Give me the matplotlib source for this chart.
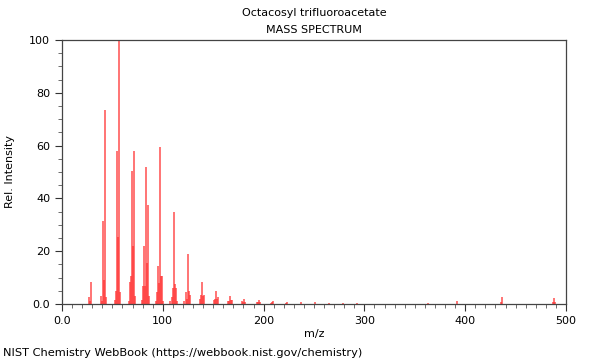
import matplotlib
matplotlib.use("Agg")
import matplotlib.pyplot as plt
from matplotlib.ticker import MultipleLocator, FuncFormatter

# ── Spectrum data (m/z, relative intensity) ──────────────────────────────────
mz = [27, 28, 29,
      39, 40, 41, 42, 43, 44,
      53, 54, 55, 56, 57, 58,
      66, 67, 68, 69, 70, 71, 72,
      79, 80, 81, 82, 83, 84, 85, 86,
      93, 94, 95, 96, 97, 98, 99, 100,
      107, 109, 110, 111, 112, 113, 114,
      121, 123, 124, 125, 126, 127,
      137, 138, 139, 140, 141,
      151, 152, 153, 154, 155,
      165, 166, 167, 168, 169,
      179, 180, 181, 182,
      193, 194, 195, 196,
      207, 208, 209,
      222, 223, 237, 251, 265, 279, 293,
      363, 392, 436, 437, 487, 488, 489]
intensity = [2.5, 1.0, 8.5,
             3.0, 1.0, 31.5, 9.0, 73.5, 2.5,
             1.5, 5.0, 58.0, 25.5, 100.0, 4.5,
             1.0, 8.5, 10.5, 50.5, 22.0, 58.0, 3.0,
             1.5, 7.0, 22.0, 7.0, 52.0, 15.5, 37.5, 3.0,
             1.0, 4.5, 14.5, 8.0, 59.5, 10.5, 10.5, 1.0,
             1.0, 2.5, 6.0, 35.0, 7.5, 6.0, 1.0,
             1.0, 4.5, 2.0, 19.0, 5.0, 3.5,
             2.0, 3.5, 8.3, 3.0, 3.5,
             1.5, 2.0, 4.9, 2.0, 2.5,
             1.0, 1.2, 3.0, 1.5, 1.5,
             1.0, 0.8, 1.8, 0.8,
             0.6, 0.7, 1.5, 0.6,
             0.4, 0.6, 1.0,
             0.4, 0.9, 0.7, 0.6, 0.5, 0.5, 0.4,
             0.3, 1.1, 0.6, 2.5, 0.8, 2.2, 0.6]

title = "Octacosyl trifluoroacetate"
subtitle = "MASS SPECTRUM"
footer = "NIST Chemistry WebBook (https://webbook.nist.gov/chemistry)"

fig = plt.figure(figsize=(6, 3.6), dpi=100)
ax = fig.add_axes([62 / 600, 56 / 360, 504 / 600, 264 / 360])

ax.vlines(mz, 0, intensity, color="#ff3030", linewidth=1.1, alpha=0.85)

ax.set_xlim(0, 500)
ax.set_ylim(0, 100)
ax.xaxis.set_major_locator(MultipleLocator(100))
ax.xaxis.set_minor_locator(MultipleLocator(10))
ax.yaxis.set_major_locator(MultipleLocator(20))
ax.yaxis.set_minor_locator(MultipleLocator(5))
fmt = FuncFormatter(lambda v, _: "0.0" if v == 0 else f"{v:.0f}")
ax.xaxis.set_major_formatter(fmt)
ax.yaxis.set_major_formatter(fmt)

ax.tick_params(which="major", length=5, width=0.8, labelsize=8, colors="#333333",
               labelcolor="black")
ax.tick_params(which="minor", length=3, width=0.6, colors="#555555")
for spine in ax.spines.values():
    spine.set_edgecolor("#444444")
    spine.set_linewidth(0.9)

ax.set_xlabel("m/z", fontsize=8, labelpad=2)
ax.set_ylabel("Rel. Intensity", fontsize=8, labelpad=10)

fig.text(314 / 600, 1 - 13 / 360, title, ha="center", va="center", fontsize=8)
fig.text(314 / 600, 1 - 30 / 360, subtitle, ha="center", va="center", fontsize=8)
fig.text(3 / 600, 1 - 353 / 360, footer, ha="left", va="center", fontsize=8.2)

fig.savefig("out.png", dpi=100)
